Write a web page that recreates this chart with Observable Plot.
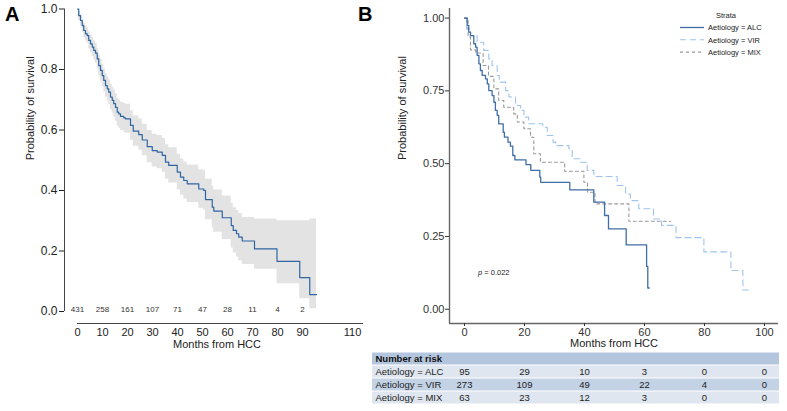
<!DOCTYPE html>
<html>
<head>
<meta charset="utf-8">
<script src="https://cdn.jsdelivr.net/npm/d3@7"></script>
<script src="https://cdn.jsdelivr.net/npm/@observablehq/plot@0.6"></script>
<style>
  html, body { margin: 0; padding: 0; background: #fff; }
  #root { position: relative; width: 787px; height: 411px; overflow: hidden; font-family: "Liberation Sans", Arial, sans-serif; }
  #root > * { position: absolute; }
  .panel-letter { font-weight: bold; font-size: 20px; color: #000; line-height: 1; }
</style>
</head>
<body>
<div id="root"></div>
<script>
// ---------- Panel A: overall Kaplan–Meier ----------
const timeA  = [0, 0.5, 1.2, 1.9, 2.5, 3.2, 3.9, 4.5, 5.2, 5.9, 6.5, 7.2, 7.9, 8.5, 9.2, 9.9, 10.5, 11.2, 11.9, 12.5, 13.2, 13.9, 14.5, 15.2, 15.9, 16.5, 17.2, 18.5, 19.2, 21.2, 22.3, 24.5, 25.9, 27.9, 29.9, 31.9, 33.9, 35.2, 36.5, 39.9, 41.2, 42.5, 43.9, 48.5, 50.5, 51.2, 53.9, 54.5, 57.9, 61.5, 62.3, 63.6, 64.5, 65.9, 70.8, 79.8, 88.9, 92.9, 95.6];
const survA  = [1.0, 0.978, 0.962, 0.945, 0.929, 0.918, 0.912, 0.896, 0.885, 0.874, 0.863, 0.854, 0.835, 0.813, 0.797, 0.78, 0.764, 0.747, 0.736, 0.725, 0.709, 0.698, 0.687, 0.675, 0.659, 0.653, 0.645, 0.64, 0.637, 0.615, 0.596, 0.585, 0.567, 0.545, 0.532, 0.527, 0.516, 0.494, 0.483, 0.461, 0.444, 0.433, 0.422, 0.405, 0.40, 0.37, 0.345, 0.332, 0.31, 0.284, 0.268, 0.257, 0.246, 0.233, 0.207, 0.166, 0.112, 0.056, 0.056];
const lowerA = [1.0, 0.962, 0.944, 0.924, 0.906, 0.893, 0.886, 0.868, 0.856, 0.843, 0.831, 0.821, 0.801, 0.778, 0.761, 0.743, 0.726, 0.708, 0.696, 0.684, 0.667, 0.655, 0.643, 0.63, 0.613, 0.606, 0.598, 0.592, 0.589, 0.566, 0.546, 0.534, 0.515, 0.492, 0.478, 0.472, 0.46, 0.437, 0.425, 0.402, 0.384, 0.372, 0.36, 0.341, 0.335, 0.303, 0.276, 0.262, 0.238, 0.21, 0.193, 0.18, 0.168, 0.155, 0.14, 0.092, 0.042, 0.009, 0.009];
const upperA = [1.0, 0.99, 0.98, 0.966, 0.952, 0.943, 0.938, 0.924, 0.914, 0.905, 0.895, 0.887, 0.869, 0.848, 0.833, 0.817, 0.802, 0.786, 0.776, 0.766, 0.751, 0.741, 0.731, 0.72, 0.705, 0.70, 0.692, 0.688, 0.685, 0.664, 0.646, 0.636, 0.619, 0.598, 0.586, 0.582, 0.572, 0.551, 0.541, 0.52, 0.504, 0.494, 0.484, 0.469, 0.465, 0.437, 0.414, 0.402, 0.382, 0.358, 0.343, 0.334, 0.324, 0.311, 0.306, 0.30, 0.30, 0.306, 0.306];
const riskTimesA  = [0, 10, 20, 30, 40, 50, 60, 70, 80, 90];
const riskCountsA = [431, 258, 161, 107, 71, 47, 28, 11, 4, 2];
const xTicksA = [0, 10, 20, 30, 40, 50, 60, 70, 80, 90, 110];
const yTicksA = [0, 0.2, 0.4, 0.6, 0.8, 1.0];
const xDomainA = [-5.2, 114.4];

// ---------- Panel B: by aetiology ----------
const strata = ["Aetiology = ALC", "Aetiology = VIR", "Aetiology = MIX"];
const timeALC = [0, 0.9, 1.4, 2, 3.1, 3.7, 4.2, 4.8, 5.3, 5.9, 7, 7.6, 8.1, 9.2, 9.8, 10.3, 10.9, 11.4, 12.9, 13.3, 14.5, 15.3, 16.1, 16.8, 20.5, 22.1, 25.1, 25.4, 35.1, 43.1, 46.7, 48, 53.9, 60.7, 61.1, 61.6];
const survALC = [1, 0.975, 0.952, 0.94, 0.912, 0.9, 0.872, 0.843, 0.82, 0.803, 0.791, 0.774, 0.751, 0.734, 0.711, 0.683, 0.666, 0.637, 0.608, 0.591, 0.574, 0.56, 0.528, 0.513, 0.497, 0.477, 0.454, 0.436, 0.41, 0.368, 0.322, 0.276, 0.221, 0.147, 0.073, 0.073];
const timeVIR = [0, 0.7, 2, 4.2, 6.4, 8.1, 9.2, 10.9, 11.6, 13.7, 14.8, 17, 18.7, 19.8, 21.4, 26.1, 27.6, 29.5, 30.4, 34.8, 35.9, 38.7, 40.9, 43.1, 50.9, 53.7, 55.3, 58.1, 63, 65.7, 70.5, 79.8, 88.8, 92.8, 95.3];
const survVIR = [1, 0.963, 0.94, 0.917, 0.889, 0.86, 0.837, 0.803, 0.78, 0.751, 0.729, 0.70, 0.683, 0.66, 0.637, 0.625, 0.597, 0.574, 0.562, 0.551, 0.517, 0.505, 0.477, 0.456, 0.425, 0.396, 0.373, 0.345, 0.31, 0.288, 0.246, 0.197, 0.133, 0.066, 0.066];
const timeMIX = [0, 1.2, 2, 3.7, 6.2, 8, 9.8, 11.4, 13.1, 16.4, 17.6, 19.8, 22, 23.1, 25.3, 33.4, 39.8, 41, 43.5, 54.8, 68.7];
const survMIX = [1, 0.935, 0.891, 0.88, 0.837, 0.80, 0.757, 0.717, 0.694, 0.671, 0.643, 0.62, 0.591, 0.534, 0.505, 0.474, 0.436, 0.402, 0.362, 0.302, 0.302];
const riskTimesB = [0, 20, 40, 60, 80, 100];
const riskALC = [95, 29, 10, 3, 0, 0];
const riskVIR = [273, 109, 49, 22, 4, 0];
const riskMIX = [63, 23, 12, 3, 0, 0];
const xTicksB = [0, 20, 40, 60, 80, 100];
const yTicksB = [0, 0.25, 0.5, 0.75, 1];
const xDomainB = [-5, 104.67];
const yDomainB = [-0.049, 1.033];
const pValueText = "0.022";
const tableRows = ["Number at risk", ...strata];

// ---------- build tables for Plot ----------
const dataA = timeA.map((t, i) => ({t, s: survA[i], lo: lowerA[i], hi: upperA[i]}));
const riskA = riskTimesA.map((t, i) => ({t, n: riskCountsA[i]}));
const series = (times, survs) => times.map((t, i) => ({t, s: survs[i]}));
const dALC = series(timeALC, survALC), dVIR = series(timeVIR, survVIR), dMIX = series(timeMIX, survMIX);
const riskB = [];
[riskALC, riskVIR, riskMIX].forEach((arr, k) => arr.forEach((n, i) => riskB.push({t: riskTimesB[i], strata: strata[k], n})));

const FONT = "'Liberation Sans', Arial, sans-serif";
const colA = "#2f65a3", bandA = "#e3e3e3";
const colALC = "#3f6ea6", colVIR = "#9ec4ee", colMIX = "#9a9a9a";

const root = document.getElementById("root");
function place(el, left, top) { el.style.left = left + "px"; el.style.top = top + "px"; root.appendChild(el); return el; }

// Panel A
const plotA = Plot.plot({
  width: 380, height: 360,
  marginLeft: 64, marginRight: 17, marginTop: 8.5, marginBottom: 49,
  style: {fontFamily: FONT, fontSize: "11px", color: "#222", background: "transparent", overflow: "visible"},
  x: {domain: xDomainA},
  y: {domain: [0, 1]},
  marks: [
    Plot.areaY(dataA, {x: "t", y1: "lo", y2: "hi", curve: "step-after", fill: bandA}),
    Plot.lineY(dataA, {x: "t", y: "s", curve: "step-after", stroke: colA, strokeWidth: 1.2}),
    Plot.ruleX([xDomainA[0]], {y1: 0, y2: 1, stroke: "#444"}),
    Plot.ruleY([0], {x1: 0, x2: xDomainA[1], dy: 12, stroke: "#444"}),
    Plot.axisY({ticks: yTicksA, tickFormat: d3.format(".1f"), tickSize: 5, tickPadding: 2, label: null, fontSize: 12}),
    Plot.axisX({ticks: xTicksA, tickSize: 0, tickPadding: 17, label: null, fontSize: 11}),
    Plot.text(riskA, {x: "t", text: "n", frameAnchor: "bottom", fontSize: 8, fill: "#333"}),
    Plot.text(["Probability of survival"], {frameAnchor: "left", rotate: -90, dx: -34, fontSize: 11}),
    Plot.text(["Months from HCC"], {frameAnchor: "bottom", dy: 36.5, dx: 3, fontSize: 11})
  ]
});
place(plotA, 0, 0);

// Panel B
const plotB = Plot.plot({
  width: 407, height: 352,
  marginLeft: 69, marginRight: 9, marginTop: 8, marginBottom: 29,
  style: {fontFamily: FONT, fontSize: "11px", color: "#333", background: "transparent", overflow: "visible"},
  x: {domain: xDomainB},
  y: {domain: yDomainB},
  marks: [
    Plot.lineY(dVIR, {x: "t", y: "s", curve: "step-after", stroke: colVIR, strokeWidth: 1.1, strokeDasharray: "6,4"}),
    Plot.lineY(dMIX, {x: "t", y: "s", curve: "step-after", stroke: colMIX, strokeWidth: 1.1, strokeDasharray: "3,3"}),
    Plot.lineY(dALC, {x: "t", y: "s", curve: "step-after", stroke: colALC, strokeWidth: 1.3}),
    Plot.ruleX([xDomainB[0]], {y1: yDomainB[0], y2: yDomainB[1], stroke: "#666", strokeWidth: 1.4}),
    Plot.ruleY([yDomainB[0]], {x1: xDomainB[0], x2: xDomainB[1], stroke: "#666", strokeWidth: 1.4}),
    Plot.axisY({ticks: yTicksB, tickFormat: d3.format(".2f"), tickSize: 4, tickPadding: 1, label: null, fontSize: 11}),
    Plot.axisX({ticks: xTicksB, tickSize: 3, tickPadding: 1.5, label: null, fontSize: 11}),
    Plot.text(["Probability of survival"], {frameAnchor: "left", rotate: -90, dx: -47, dy: -6, fontSize: 11, fill: "#222"}),
    Plot.text(["Months from HCC"], {frameAnchor: "bottom", dy: 23, fontSize: 11, fill: "#222"})
  ]
});
place(plotB, 380, 0);

// Number-at-risk table for panel B (shares the month scale of panel B)
const rowFill = ["#b3c6de", "#dfe6f0", "#c3d2e5", "#dfe6f0"];
const tablePlot = Plot.plot({
  width: 407, height: 52, margin: 0,
  style: {fontFamily: FONT, fontSize: "9.5px", color: "#111", background: "transparent"},
  x: {domain: [xDomainB[0] - 77 / 3, xDomainB[1] + 1 / 3], axis: null},
  y: {domain: tableRows, axis: null, padding: 0},
  marks: [
    Plot.cell(tableRows, {y: d => d, fill: (d, i) => rowFill[i], insetTop: 0.5, insetBottom: 0.5}),
    Plot.text(tableRows.slice(0, 1), {y: d => d, text: d => d, frameAnchor: "left", textAnchor: "start", dx: 3, fontWeight: "bold"}),
    Plot.text(strata, {y: d => d, text: d => d, frameAnchor: "left", textAnchor: "start", dx: 3, fill: "#222"}),
    Plot.text(riskB, {x: "t", y: "strata", text: "n", fill: "#222"})
  ]
});
place(tablePlot, 372, 352);

// Legend (Strata)
const ns = "http://www.w3.org/2000/svg";
const leg = document.createElementNS(ns, "svg");
leg.setAttribute("width", 110); leg.setAttribute("height", 60);
leg.style.fontFamily = FONT;
const title = document.createElementNS(ns, "text");
title.setAttribute("x", 51); title.setAttribute("y", 17.5); title.setAttribute("text-anchor", "middle");
title.setAttribute("font-size", "7.5"); title.setAttribute("fill", "#222"); title.textContent = "Strata";
leg.appendChild(title);
const legStyles = [[colALC, null, 1.3], [colVIR, "6,4", 1.1], [colMIX, "3,3", 1.1]];
strata.forEach((s, i) => {
  const yy = 27.5 + i * 12.3;
  const ln = document.createElementNS(ns, "line");
  ln.setAttribute("x1", 5); ln.setAttribute("x2", 29); ln.setAttribute("y1", yy); ln.setAttribute("y2", yy);
  ln.setAttribute("stroke", legStyles[i][0]); ln.setAttribute("stroke-width", legStyles[i][2]);
  if (legStyles[i][1]) ln.setAttribute("stroke-dasharray", legStyles[i][1]);
  leg.appendChild(ln);
  const tx = document.createElementNS(ns, "text");
  tx.setAttribute("x", 33); tx.setAttribute("y", yy + 2.7); tx.setAttribute("font-size", "7.5");
  tx.setAttribute("fill", "#222"); tx.textContent = s;
  leg.appendChild(tx);
});
place(leg, 675, 0);

// p-value annotation
const pv = document.createElement("div");
pv.style.fontSize = "7.5px"; pv.style.color = "#222"; pv.style.lineHeight = "1"; pv.style.whiteSpace = "nowrap";
pv.innerHTML = "<i>p</i> = " + pValueText;
place(pv, 478, 269);

// Panel letters
const la = document.createElement("div"); la.className = "panel-letter"; la.textContent = "A"; place(la, 5, 4);
const lb = document.createElement("div"); lb.className = "panel-letter"; lb.textContent = "B"; place(lb, 358, 4);
</script>
</body>
</html>
